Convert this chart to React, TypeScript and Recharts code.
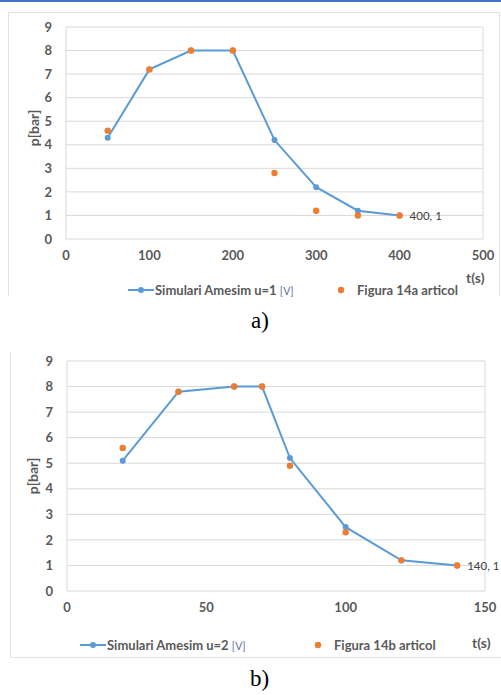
import React from "react";
import { ScatterChart, Scatter, XAxis, YAxis, CartesianGrid, Label } from "recharts";

// ---- data: panel a ----
const timeA = [50, 100, 150, 200, 250, 300, 350, 400];
const simA = [4.3, 7.2, 8, 8, 4.2, 2.2, 1.2, 1];
const figA = [4.6, 7.2, 8, 8, 2.8, 1.2, 1.0, 1];
const xTicksA = [0, 100, 200, 300, 400, 500];
const xGridA = [0, 20, 40, 60, 80, 100, 120, 140, 160, 180, 200, 220, 240, 260, 280, 300, 320, 340, 360, 380, 400, 420, 440, 460, 480, 500];

// ---- data: panel b ----
const timeB = [20, 40, 60, 70, 80, 100, 120, 140];
const simB = [5.1, 7.8, 8, 8, 5.2, 2.5, 1.2, 1];
const figB = [5.6, 7.8, 8, 8, 4.9, 2.3, 1.2, 1];
const xTicksB = [0, 50, 100, 150];
const xGridB = [0, 10, 20, 30, 40, 50, 60, 70, 80, 90, 100, 110, 120, 130, 140, 150];

const yTicks = [0, 1, 2, 3, 4, 5, 6, 7, 8, 9];

const seriesNameA = "Simulari Amesim u=1";
const seriesNameB = "Simulari Amesim u=2";
const figNameA = "Figura 14a articol";
const figNameB = "Figura 14b articol";

const BLUE = "#5B9BD5";
const ORANGE = "#ED7D31";
const GRID = "#D9D9D9";
const TEXT = "#595959";
const FONT = "Lato, 'Open Sans', sans-serif";

const toRows = (t: number[], p: number[]) => t.map((v, i) => ({ t: v, p: p[i] }));

type PanelProps = {
  left: number;
  top: number;
  width: number;
  height: number;
  margin: { top: number; right: number; left: number; bottom: number };
  yAxisWidth: number;
  xAxisHeight: number;
  time: number[];
  sim: number[];
  fig: number[];
  xTicks: number[];
  xGrid: number[];
  xMax: number;
  titleDx: number;
  titleDy: number;
};

function Panel(props: PanelProps) {
  const simRows = toRows(props.time, props.sim);
  const figRows = toRows(props.time, props.fig);
  const lastT = props.time[props.time.length - 1];
  const tickStyle = { fill: TEXT, fontSize: 13, fontWeight: 700, fontFamily: FONT };
  return (
    <div style={{ position: "absolute", left: props.left, top: props.top }}>
      <ScatterChart width={props.width} height={props.height} margin={props.margin} style={{ overflow: "visible" }}>
        <CartesianGrid xAxisId="grid" stroke={GRID} strokeWidth={1} />
        <XAxis
          xAxisId="grid"
          type="number"
          dataKey="t"
          domain={[0, props.xMax]}
          ticks={props.xGrid}
          hide
        />
        <XAxis
          type="number"
          dataKey="t"
          domain={[0, props.xMax]}
          ticks={props.xTicks}
          axisLine={false}
          tickLine={false}
          tickSize={0}
          tickMargin={12}
          height={props.xAxisHeight}
          tick={tickStyle}
          interval={0}
        />
        <YAxis
          type="number"
          dataKey="p"
          domain={[0, 9]}
          ticks={yTicks}
          axisLine={false}
          tickLine={false}
          tickSize={0}
          tickMargin={14}
          width={props.yAxisWidth}
          tick={tickStyle}
          interval={0}
        >
          <Label
            content={(lp: any) => {
              const vb = lp.viewBox || {};
              const cx = vb.x + props.titleDx;
              const cy = vb.y + vb.height / 2 + props.titleDy;
              return (
                <text
                  transform={`translate(${cx}, ${cy}) rotate(-90)`}
                  textAnchor="middle"
                  dominantBaseline="central"
                  fill={TEXT}
                  fontSize={14}
                  fontWeight={700}
                  fontFamily={FONT}
                >
                  p[bar]
                </text>
              );
            }}
          />
        </YAxis>
        <Scatter
          data={simRows}
          fill={BLUE}
          line={{ stroke: BLUE, strokeWidth: 2 }}
          lineType="joint"
          isAnimationActive={false}
          shape={(sp: any) => <circle cx={sp.cx} cy={sp.cy} r={3} fill={BLUE} />}
        />
        <Scatter
          data={figRows}
          fill={ORANGE}
          isAnimationActive={false}
          shape={(sp: any) => (
            <g>
              <circle cx={sp.cx} cy={sp.cy} r={3.2} fill={ORANGE} />
              {sp.payload && sp.payload.t === lastT ? (
                <text
                  x={sp.cx + 10}
                  y={sp.cy}
                  dominantBaseline="central"
                  fill="#404040"
                  fontSize={11.5}
                  fontFamily={FONT}
                >
                  {`${sp.payload.t}, ${sp.payload.p}`}
                </text>
              ) : null}
            </g>
          )}
        />
      </ScatterChart>
    </div>
  );
}

function LegendRow(props: { top: number; lineLeft: number; simName: string; figLeft: number; figName: string }) {
  const txt: React.CSSProperties = { fontFamily: FONT, fontWeight: 700, fontSize: 13, color: TEXT, whiteSpace: "nowrap" };
  return (
    <>
      <svg style={{ position: "absolute", left: props.lineLeft, top: props.top - 5 }} width={26} height={10}>
        <line x1={0} y1={5} x2={26} y2={5} stroke={BLUE} strokeWidth={2} />
        <circle cx={13} cy={5} r={3} fill={BLUE} />
      </svg>
      <div style={{ position: "absolute", left: props.lineLeft + 27, top: props.top - 9, lineHeight: "18px", ...txt }}>
        {props.simName} <span style={{ fontWeight: 400, fontSize: 10.5, color: "#5A6EA6" }}>[V]</span>
      </div>
      <svg style={{ position: "absolute", left: props.figLeft - 4, top: props.top - 4 }} width={8} height={8}>
        <circle cx={4} cy={4} r={3.2} fill={ORANGE} />
      </svg>
      <div style={{ position: "absolute", left: props.figLeft + 16, top: props.top - 9, lineHeight: "18px", ...txt }}>
        {props.figName}
      </div>
    </>
  );
}

export default function App() {
  const tsStyle: React.CSSProperties = {
    position: "absolute",
    fontFamily: FONT,
    fontWeight: 700,
    fontSize: 14,
    color: TEXT,
    lineHeight: "18px",
  };
  const captionStyle: React.CSSProperties = {
    position: "absolute",
    fontFamily: "'Liberation Serif', 'Times New Roman', serif",
    fontSize: 23,
    color: "#000",
    lineHeight: "26px",
  };
  return (
    <div style={{ position: "absolute", left: 0, top: 0, width: 501, height: 695, overflow: "hidden", background: "#fff" }}>
      <div style={{ position: "absolute", left: 0, top: 0, width: 501, height: 2, background: "#4472C4" }} />

      {/* frame a */}
      <div style={{ position: "absolute", left: 8, top: 12, width: 492, height: 284, border: "1px solid #E3E3E3", borderBottom: "none", boxSizing: "border-box" }} />
      <Panel
        left={8}
        top={12}
        width={492}
        height={284}
        margin={{ top: 15, right: 17, left: 20, bottom: 0 }}
        yAxisWidth={38}
        xAxisHeight={57}
        time={timeA}
        sim={simA}
        fig={figA}
        xTicks={xTicksA}
        xGrid={xGridA}
        xMax={500}
        titleDx={5.5}
        titleDy={-5}
      />
      <div style={{ ...tsStyle, left: 466, top: 269 }}>t(s)</div>
      <LegendRow top={290} lineLeft={128} simName={seriesNameA} figLeft={341} figName={figNameA} />
      <div style={{ ...captionStyle, left: 251, top: 308 }}>a)</div>

      {/* frame b */}
      <div style={{ position: "absolute", left: 10, top: 352, width: 520, height: 306, borderLeft: "1px solid #E3E3E3", borderBottom: "1px solid #E3E3E3", boxSizing: "border-box" }} />
      <Panel
        left={10}
        top={346}
        width={520}
        height={312}
        margin={{ top: 15, right: 45, left: 18, bottom: 0 }}
        yAxisWidth={39}
        xAxisHeight={67}
        time={timeB}
        sim={simB}
        fig={figB}
        xTicks={xTicksB}
        xGrid={xGridB}
        xMax={150}
        titleDx={4}
        titleDy={0}
      />
      <div style={{ ...tsStyle, left: 472, top: 634 }}>t(s)</div>
      <LegendRow top={645} lineLeft={80} simName={seriesNameB} figLeft={318} figName={figNameB} />
      <div style={{ ...captionStyle, left: 250, top: 666 }}>b)</div>
    </div>
  );
}
